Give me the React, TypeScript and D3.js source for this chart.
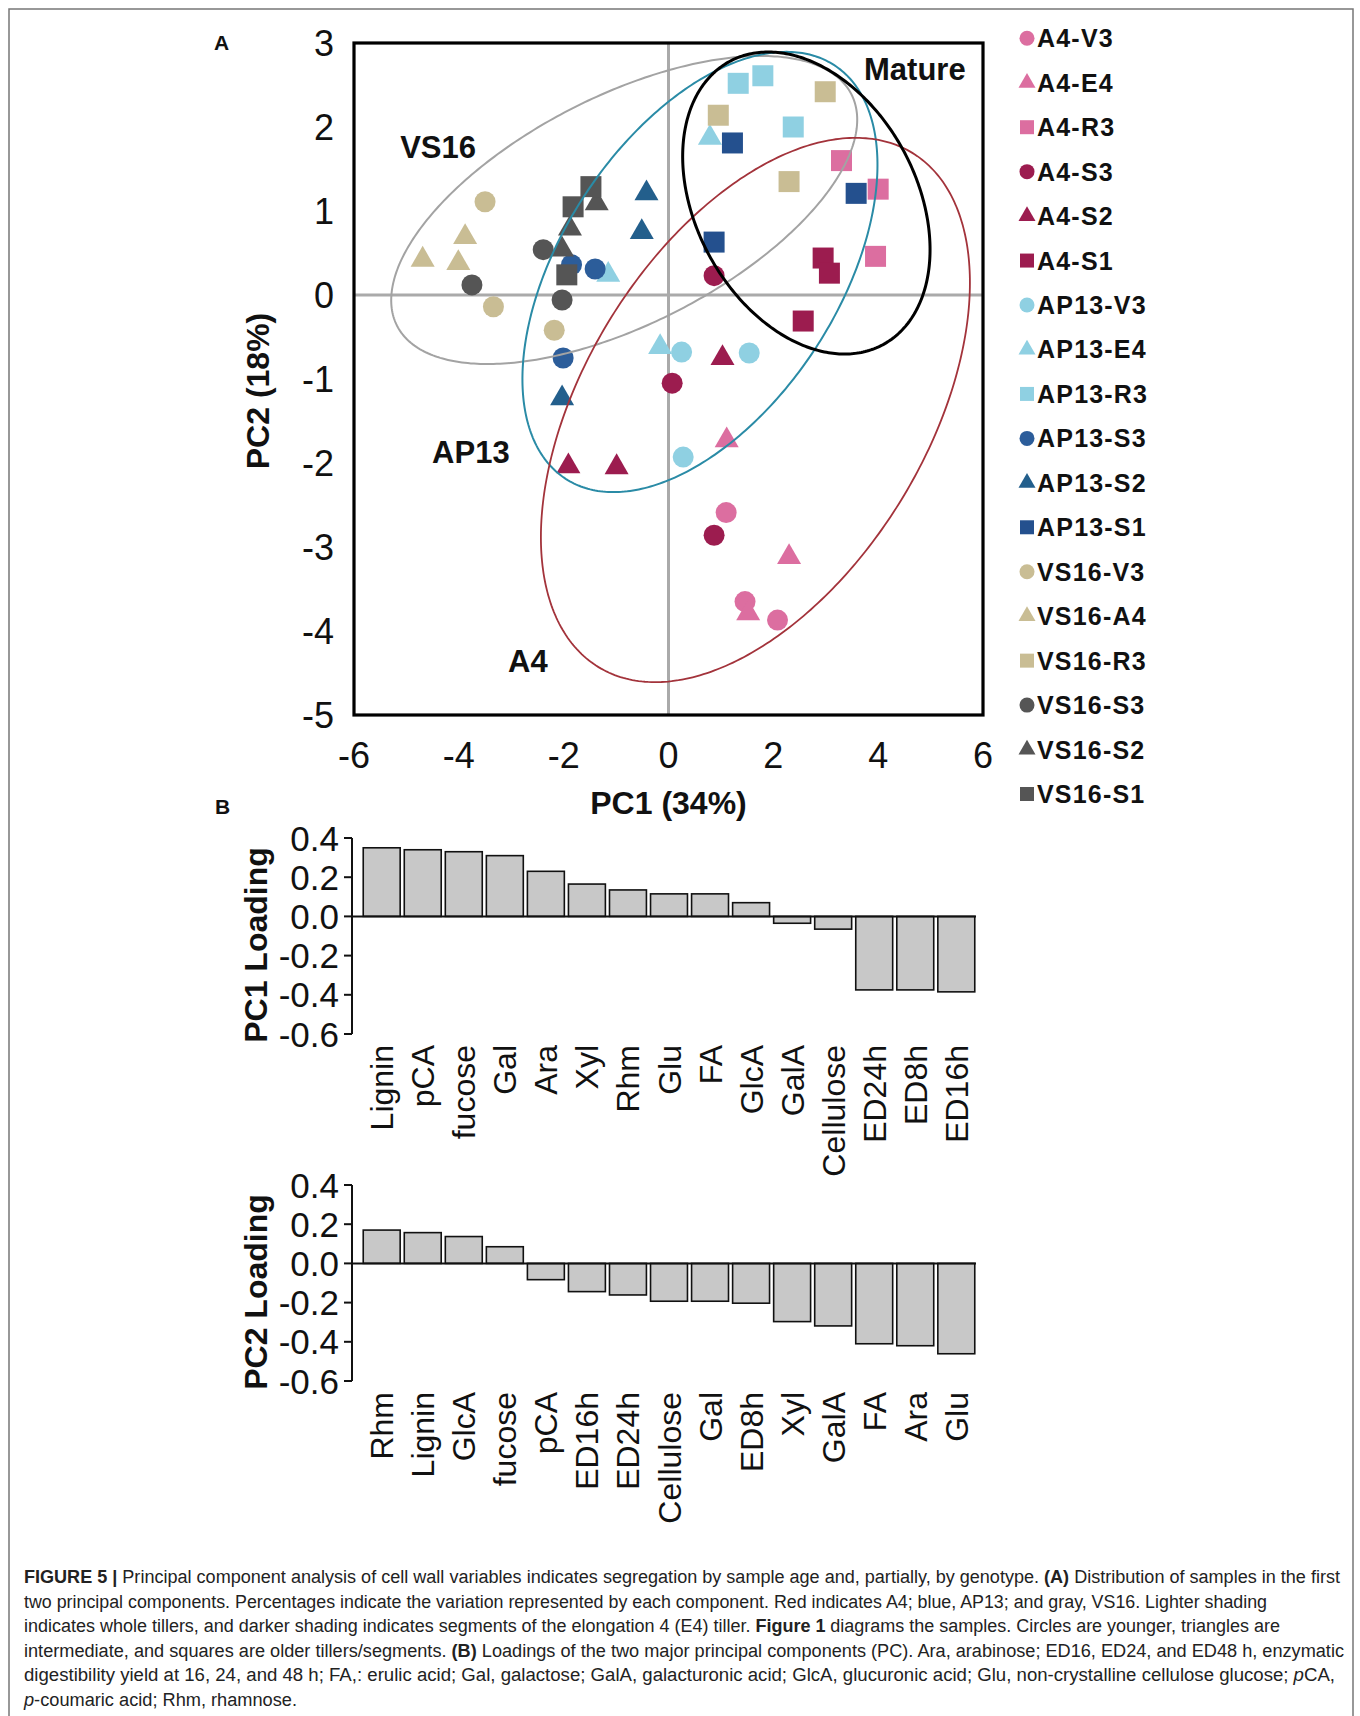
import React from 'react';
import * as d3 from 'd3';

// ---------- Panel A data (PC1, PC2 scores) ----------
const seriesNames = ['A4-V3','A4-E4','A4-R3','A4-S3','A4-S2','A4-S1','AP13-V3','AP13-E4','AP13-R3','AP13-S3','AP13-S2','AP13-S1','VS16-V3','VS16-A4','VS16-R3','VS16-S3','VS16-S2','VS16-S1'];
const seriesShapes = ['circle','triangle','square','circle','triangle','square','circle','triangle','square','circle','triangle','square','circle','triangle','square','circle','triangle','square'];
const seriesColors = ['#dc6ea0','#dc6ea0','#dc6ea0','#9c1c4f','#9c1c4f','#9c1c4f','#8fd0e2','#8fd0e2','#8fd0e2','#2c5d9a','#235f8c','#24508e','#c9bd94','#c9bd94','#c9bd94','#555555','#555555','#555555'];

const A4_V3 = [[1.10,-2.59],[1.46,-3.65],[2.08,-3.87]];
const A4_E4 = [[1.11,-1.73],[2.30,-3.12],[1.52,-3.79]];
const A4_R3 = [[3.30,1.60],[4.00,1.26],[3.95,0.46]];
const A4_S3 = [[0.87,0.23],[0.07,-1.05],[0.87,-2.86]];
const A4_S2 = [[1.03,-0.75],[-1.91,-2.04],[-0.99,-2.05]];
const A4_S1 = [[2.95,0.44],[3.07,0.26],[2.57,-0.31]];
const AP13_V3 = [[0.25,-0.68],[1.54,-0.69],[0.28,-1.93]];
const AP13_E4 = [[0.79,1.87],[-1.15,0.24],[-0.16,-0.62]];
const AP13_R3 = [[1.33,2.52],[1.80,2.61],[2.38,2.00]];
const AP13_S3 = [[-1.85,0.36],[-1.40,0.31],[-2.01,-0.75]];
const AP13_S2 = [[-0.42,1.21],[-0.51,0.75],[-2.03,-1.23]];
const AP13_S1 = [[1.22,1.81],[3.58,1.21],[0.87,0.63]];
const VS16_V3 = [[-3.50,1.11],[-3.34,-0.14],[-2.18,-0.42]];
const VS16_A4 = [[-3.88,0.69],[-4.69,0.42],[-4.01,0.38]];
const VS16_R3 = [[0.95,2.14],[2.99,2.42],[2.30,1.35]];
const VS16_S3 = [[-3.75,0.12],[-2.39,0.54],[-2.03,-0.06]];
const VS16_S2 = [[-1.37,1.09],[-1.88,0.79],[-2.03,0.54]];
const VS16_S1 = [[-1.48,1.29],[-1.82,1.05],[-1.94,0.24]];
const seriesValues = [A4_V3,A4_E4,A4_R3,A4_S3,A4_S2,A4_S1,AP13_V3,AP13_E4,AP13_R3,AP13_S3,AP13_S2,AP13_S1,VS16_V3,VS16_A4,VS16_R3,VS16_S3,VS16_S2,VS16_S1];

// Ellipses: center, two conjugate semi-axis vectors (data units)
const ellipseVS16 = { c: [-0.845, 1.012], u: [4.334, 1.378], v: [0.988, -1.210], color: '#a3a3a3', w: 2 };
const ellipseAP13 = { c: [0.60, 0.274], u: [2.562, 2.462], v: [2.215, -0.898], color: '#2a8ba6', w: 2 };
const ellipseA4 = { c: [1.658, -1.369], u: [2.993, 3.061], v: [2.791, -1.062], color: '#a3333b', w: 1.8 };
const ellipseMature = { c: [2.63, 1.095], u: [1.465, -1.685], v: [-1.850, -0.627], color: '#000000', w: 3 };
const ellipses = [ellipseVS16, ellipseAP13, ellipseA4, ellipseMature];

const groupLabels = ['VS16', 'Mature', 'AP13', 'A4'];
const groupLabelPos = [[-5.12, 1.63], [3.73, 2.56], [-4.51, -2.0], [-3.06, -4.49]];

const xTicksA = [-6, -4, -2, 0, 2, 4, 6];
const yTicksA = [3, 2, 1, 0, -1, -2, -3, -4, -5];

// ---------- Panel B data (loadings) ----------
const pc1Vars = ['Lignin','pCA','fucose','Gal','Ara','Xyl','Rhm','Glu','FA','GlcA','GalA','Cellulose','ED24h','ED8h','ED16h'];
const pc1Loadings = [0.35, 0.34, 0.33, 0.31, 0.23, 0.165, 0.135, 0.115, 0.115, 0.07, -0.035, -0.065, -0.375, -0.375, -0.385];
const pc2Vars = ['Rhm','Lignin','GlcA','fucose','pCA','ED16h','ED24h','Cellulose','Gal','ED8h','Xyl','GalA','FA','Ara','Glu'];
const pc2Loadings = [0.17, 0.157, 0.137, 0.085, -0.083, -0.144, -0.161, -0.193, -0.193, -0.203, -0.297, -0.319, -0.41, -0.42, -0.461];
const loadingTicks = [0.4, 0.2, 0.0, -0.2, -0.4, -0.6];

const captionLines = [
  [['b', 'FIGURE 5 | '], ['n', 'Principal component analysis of cell wall variables indicates segregation by sample age and, partially, by genotype. '], ['b', '(A)'], ['n', ' Distribution of samples in the first']],
  [['n', 'two principal components. Percentages indicate the variation represented by each component. Red indicates A4; blue, AP13; and gray, VS16. Lighter shading']],
  [['n', 'indicates whole tillers, and darker shading indicates segments of the elongation 4 (E4) tiller. '], ['b', 'Figure 1'], ['n', ' diagrams the samples. Circles are younger, triangles are']],
  [['n', 'intermediate, and squares are older tillers/segments. '], ['b', '(B)'], ['n', ' Loadings of the two major principal components (PC). Ara, arabinose; ED16, ED24, and ED48 h, enzymatic']],
  [['n', 'digestibility yield at 16, 24, and 48 h; FA,: erulic acid; Gal, galactose; GalA, galacturonic acid; GlcA, glucuronic acid; Glu, non-crystalline cellulose glucose; '], ['i', 'p'], ['n', 'CA,']],
  [['i', 'p'], ['n', '-coumaric acid; Rhm, rhamnose.']],
];
const captionWidths = [1316, 1243, 1256, 1320, 1311, 273];

const FONT = "'Liberation Sans', Arial, Helvetica, sans-serif";

function symbolPath(shape: string, size: number) {
  const t = shape === 'circle' ? d3.symbolCircle : shape === 'triangle' ? d3.symbolTriangle : d3.symbolSquare;
  return d3.symbol().type(t).size(size)() as string;
}

function ellipsePath(e: any, x: any, y: any) {
  const ts = d3.range(0, 361).map((d) => (d * Math.PI) / 180);
  const pts = ts.map((t) => [
    x(e.c[0] + e.u[0] * Math.cos(t) + e.v[0] * Math.sin(t)),
    y(e.c[1] + e.u[1] * Math.cos(t) + e.v[1] * Math.sin(t)),
  ]) as [number, number][];
  return (d3.line()(pts) as string) + 'Z';
}

function sizeFor(shape: string, legend: boolean) {
  if (shape === 'circle') return legend ? Math.PI * 7.5 * 7.5 : Math.PI * 10.5 * 10.5;
  if (shape === 'square') return legend ? 14 * 14 : 21 * 21;
  return legend ? (Math.sqrt(3) / 4) * 17 * 17 : (Math.sqrt(3) / 4) * 24 * 24;
}

function LoadingPanel({ vars, vals, top, bottom, label }: any) {
  const y = d3.scaleLinear().domain([-0.6, 0.4]).range([bottom, top]);
  const x = d3.scaleBand<string>().domain(vars).range([362, 976]).paddingInner(0.1).paddingOuter(0.03);
  const axisX = 352;
  const labelTop = bottom + 11;
  return (
    <g>
      {vars.map((v: string, i: number) => {
        const val = vals[i];
        const y0 = y(0), y1 = y(val);
        return (
          <rect key={v} x={x(v)} y={Math.min(y0, y1)} width={x.bandwidth()} height={Math.abs(y1 - y0)}
            fill="#c8c8c8" stroke="#111" strokeWidth={1.6} />
        );
      })}
      <line x1={axisX} x2={976} y1={y(0)} y2={y(0)} stroke="#111" strokeWidth={2} />
      <line x1={axisX} x2={axisX} y1={y(0.4)} y2={y(-0.6)} stroke="#111" strokeWidth={2} />
      {loadingTicks.map((t) => (
        <g key={t}>
          <line x1={axisX - 8} x2={axisX} y1={y(t)} y2={y(t)} stroke="#111" strokeWidth={2} />
          <text x={axisX - 13} y={y(t)} dy="0.36em" textAnchor="end" fontSize={35} fill="#111">{t.toFixed(1)}</text>
        </g>
      ))}
      <text transform={`translate(255,${(top + bottom) / 2 + 9}) rotate(-90)`} textAnchor="middle" dy="0.36em"
        fontSize={32} fontWeight="bold" fill="#111">{label}</text>
      {vars.map((v: string) => (
        <text key={'l' + v} transform={`translate(${(x(v) as number) + x.bandwidth() / 2},${labelTop}) rotate(-90)`}
          textAnchor="end" dy="0.36em" fontSize={32} fill="#111">{v}</text>
      ))}
    </g>
  );
}

export default function App() {
  const x = d3.scaleLinear().domain([-6, 6]).range([354, 983]);
  const y = d3.scaleLinear().domain([-5, 3]).range([715, 43]);
  const legendY = d3.scaleLinear().domain([0, 17]).range([38.3, 794]);

  return (
    <svg width={1360} height={1716} viewBox="0 0 1360 1716"
      style={{ position: 'absolute', left: 0, top: 0, background: '#fff' }} fontFamily={FONT}>
      <rect x={0} y={0} width={1360} height={1716} fill="#fff" />
      {/* outer figure border */}
      <path d="M9,1720 L9,9 L1353,9 L1353,1720" fill="none" stroke="#777" strokeWidth={1.5} />

      {/* ----- Panel A ----- */}
      <text x={214} y={50} fontSize={21} fontWeight="bold" fill="#111">A</text>
      <line x1={x(0)} x2={x(0)} y1={y(3)} y2={y(-5)} stroke="#aaaaaa" strokeWidth={3} />
      <line x1={x(-6)} x2={x(6)} y1={y(0)} y2={y(0)} stroke="#aaaaaa" strokeWidth={3} />

      {seriesValues.map((pts, si) => (
        <g key={seriesNames[si]}>
          {pts.map((p, i) => (
            <path key={i} d={symbolPath(seriesShapes[si], sizeFor(seriesShapes[si], false))}
              transform={`translate(${x(p[0])},${y(p[1])})`} fill={seriesColors[si]} />
          ))}
        </g>
      ))}

      {ellipses.map((e, i) => (
        <path key={i} d={ellipsePath(e, x, y)} fill="none" stroke={e.color} strokeWidth={e.w} />
      ))}

      <rect x={x(-6)} y={y(3)} width={x(6) - x(-6)} height={y(-5) - y(3)} fill="none" stroke="#000" strokeWidth={3.2} />

      {groupLabels.map((g, i) => (
        <text key={g} x={x(groupLabelPos[i][0])} y={y(groupLabelPos[i][1])} fontSize={31} fontWeight="bold" fill="#111">{g}</text>
      ))}

      {xTicksA.map((t) => (
        <text key={'x' + t} x={x(t)} y={755} dy="0.36em" textAnchor="middle" fontSize={36} fill="#111">{t}</text>
      ))}
      {yTicksA.map((t) => (
        <text key={'y' + t} x={334} y={y(t)} dy="0.36em" textAnchor="end" fontSize={36} fill="#111">{t}</text>
      ))}
      <text x={x(0)} y={802} dy="0.36em" textAnchor="middle" fontSize={32} fontWeight="bold" fill="#111">PC1 (34%)</text>
      <text transform={`translate(257,${y(-1) + 12}) rotate(-90)`} dy="0.36em" textAnchor="middle" fontSize={32} fontWeight="bold" fill="#111">PC2 (18%)</text>

      {/* legend */}
      {seriesNames.map((n, i) => (
        <g key={'lg' + n} transform={`translate(0,${legendY(i)})`}>
          <path d={symbolPath(seriesShapes[i], sizeFor(seriesShapes[i], true))} transform="translate(1027,0)" fill={seriesColors[i]} />
          <text x={1037} y={0} dy="0.36em" fontSize={25} fontWeight="bold" letterSpacing={1.2} fill="#111">{n}</text>
        </g>
      ))}

      {/* ----- Panel B ----- */}
      <text x={215} y={814} fontSize={21} fontWeight="bold" fill="#111">B</text>
      <LoadingPanel vars={pc1Vars} vals={pc1Loadings} top={838} bottom={1034} label="PC1 Loading" />
      <LoadingPanel vars={pc2Vars} vals={pc2Loadings} top={1185} bottom={1381} label="PC2 Loading" />

      {/* caption */}
      {captionLines.map((line, li) => (
        <text key={'c' + li} x={24} y={1583 + li * 24.5} fontSize={18} fill="#222"
          textLength={captionWidths[li]} lengthAdjust="spacingAndGlyphs">
          {line.map((seg, si) => (
            <tspan key={si} fontWeight={seg[0] === 'b' ? 'bold' : 'normal'} fontStyle={seg[0] === 'i' ? 'italic' : 'normal'}>{seg[1]}</tspan>
          ))}
        </text>
      ))}
    </svg>
  );
}
